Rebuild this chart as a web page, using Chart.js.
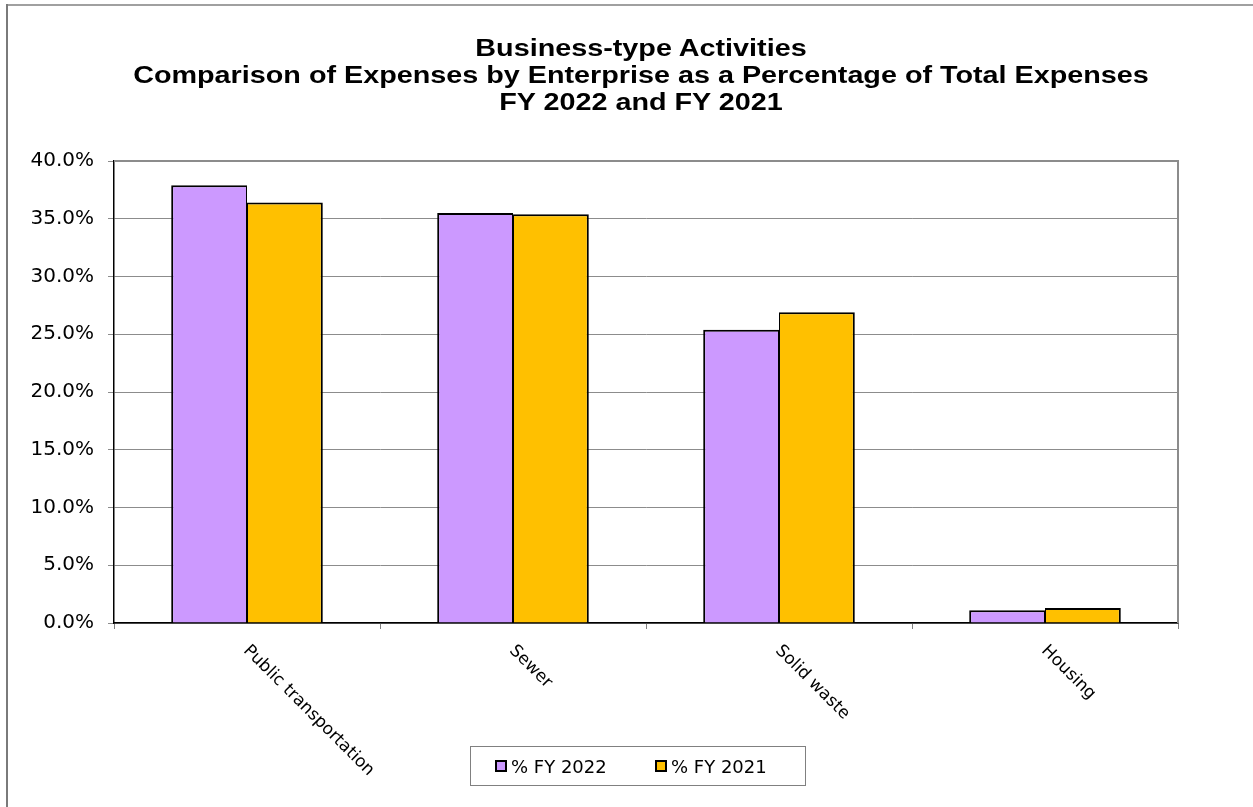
<!doctype html>
<html>
<head>
<meta charset="utf-8">
<title>Business-type Activities</title>
<script src="https://cdn.jsdelivr.net/npm/chart.js@4.4.1/dist/chart.umd.min.js"></script>
<style>
	html, body { margin: 0; padding: 0; background: #fff; overflow: hidden; }
	#wrap { position: relative; width: 1253px; height: 807px; }
	#title {
		position: absolute; left: 0; top: 35px; width: 1282px; text-align: center;
		font-family: 'Liberation Sans', Arial, sans-serif; font-weight: bold; font-size: 23px; line-height: 27px; color: #000;
		transform: scaleX(1.25); transform-origin: 641px 0;
	}
	#legend {
		position: absolute; left: 470px; top: 746px; width: 336px; height: 40px;
		box-sizing: border-box; border: 1px solid #808080;
		font-family: 'DejaVu Sans', sans-serif; font-size: 18px; color: #000;
	}
	.item { position: absolute; top: 0; height: 38px; display: flex; align-items: center; white-space: nowrap; }
	.swatch { width: 8px; height: 8px; border: 2px solid #000; margin-right: 4px; }
</style>
</head>
<body>
<div id="wrap">
	<canvas id="chart" width="1253" height="807"></canvas>
	<div id="title"></div>
	<div id="legend"></div>
</div>
<script>
	var titleLines = [
		'Business-type Activities',
		'Comparison of Expenses by Enterprise as a Percentage of Total Expenses',
		'FY 2022 and FY 2021'
	];
	var enterprises = ['Public transportation', 'Sewer', 'Solid waste', 'Housing'];
	var fy2022 = [37.9, 35.5, 25.4, 1.1];
	var fy2021 = [36.4, 35.4, 26.9, 1.3];
	var yTicks = [0, 5, 10, 15, 20, 25, 30, 35, 40];

	// outer box of the sheet + gray frame around the plot
	var frame = {
		id: 'frame',
		beforeDraw: function (chart) {
			var ctx = chart.ctx;
			ctx.save();
			ctx.fillStyle = '#a0a0a0';
			ctx.fillRect(6, 4, chart.width, 2);
			ctx.fillStyle = '#7a7a7a';
			ctx.fillRect(6, 4, 2, chart.height);
			ctx.restore();
		},
		beforeDatasetsDraw: function (chart) {
			var ctx = chart.ctx, a = chart.chartArea;
			ctx.save();
			ctx.strokeStyle = '#8c8c8c';
			ctx.lineWidth = 2;
			ctx.beginPath();
			ctx.moveTo(a.left, a.top);
			ctx.lineTo(a.right, a.top);
			ctx.lineTo(a.right, a.bottom);
			ctx.stroke();
			ctx.restore();
		}
	};

	// category names slanted downwards under each group
	var slantedLabels = {
		id: 'slantedLabels',
		afterDraw: function (chart) {
			var ctx = chart.ctx, x = chart.scales.x;
			ctx.save();
			ctx.font = '17px "DejaVu Sans"';
			ctx.fillStyle = '#000';
			ctx.textAlign = 'left';
			ctx.textBaseline = 'middle';
			chart.data.labels.forEach(function (label, i) {
				ctx.save();
				ctx.translate(x.getPixelForValue(i) - 1, x.top + 25);
				ctx.rotate(Math.PI / 4);
				ctx.fillText(label, 0, 0);
				ctx.restore();
			});
			ctx.restore();
		}
	};

	var config = {
		type: 'bar',
		data: {
			labels: enterprises,
			datasets: [{
				label: '% FY 2022',
				data: fy2022,
				backgroundColor: '#cc99ff',
				borderColor: '#000',
				borderWidth: { top: 2, left: 2, right: 1, bottom: 0 }
			}, {
				label: '% FY 2021',
				data: fy2021,
				backgroundColor: '#ffc000',
				borderColor: '#000',
				borderWidth: { top: 2, left: 1, right: 2, bottom: 0 }
			}]
		},
		options: {
			responsive: false,
			animation: false,
			events: [],
			datasets: { bar: { categoryPercentage: 0.57, barPercentage: 1.0 } },
			layout: { padding: { left: 20, right: 75, top: 161, bottom: 0 } },
			plugins: {
				legend: { display: false },
				tooltip: { enabled: false },
				title: { display: false }
			},
			scales: {
				x: {
					offset: true,
					grid: { offset: true, drawOnChartArea: false, tickLength: 6, color: '#808080' },
					border: { color: '#000', width: 1.5 },
					ticks: { display: false },
					afterFit: function (s) { s.height = 184; }
				},
				y: {
					min: 0,
					max: 40,
					afterBuildTicks: function (s) { s.ticks = yTicks.map(function (v) { return { value: v }; }); },
					ticks: {
						padding: 14,
						color: '#000',
						font: { family: 'DejaVu Sans', size: 20 },
						callback: function (v) { return v.toFixed(1) + '%'; }
					},
					grid: { color: '#8c8c8c', tickLength: 6 },
					border: { color: '#000', width: 1.5 },
					afterFit: function (s) { s.width = 94; }
				}
			}
		},
		plugins: [frame, slantedLabels]
	};

	var chart = new Chart(document.getElementById('chart').getContext('2d'), config);

	var title = document.getElementById('title');
	titleLines.forEach(function (line) {
		var d = document.createElement('div');
		d.textContent = line;
		title.appendChild(d);
	});

	// legend box under the axis
	var legend = document.getElementById('legend');
	var offsets = [24, 184];
	chart.data.datasets.forEach(function (ds, i) {
		var item = document.createElement('div');
		item.className = 'item';
		item.style.left = offsets[i] + 'px';
		var sw = document.createElement('span');
		sw.className = 'swatch';
		sw.style.background = ds.backgroundColor;
		item.appendChild(sw);
		item.appendChild(document.createTextNode(ds.label));
		legend.appendChild(item);
	});
</script>
</body>
</html>
